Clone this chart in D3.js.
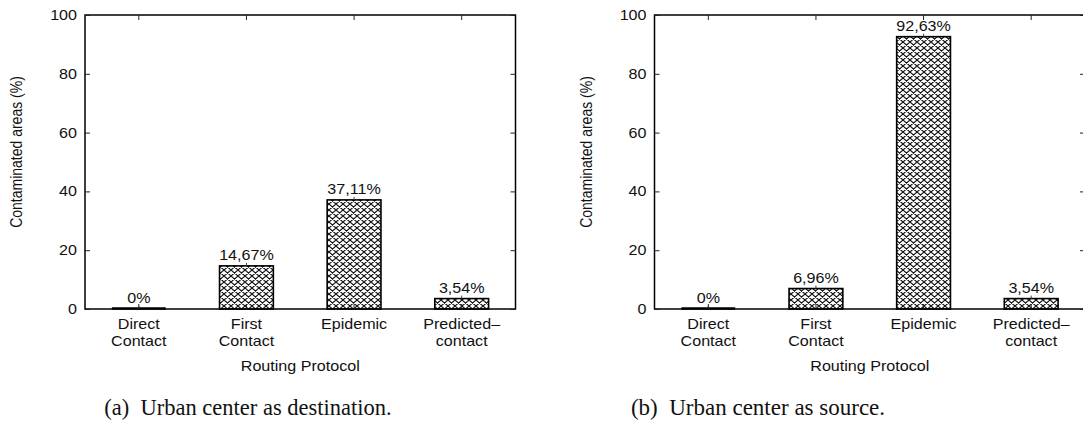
<!DOCTYPE html>
<html>
<head>
<meta charset="utf-8">
<script src="https://cdn.jsdelivr.net/npm/d3@7"></script>
<style>
  html, body { margin: 0; padding: 0; background: #fff; }
  svg { display: block; }
</style>
</head>
<body>
<svg id="chart" width="1083" height="423"></svg>
<script>
// ---- data ----
const categories = ["Direct Contact", "First Contact", "Epidemic", "Predicted-contact"];
const categoryLines = [["Direct", "Contact"], ["First", "Contact"], ["Epidemic"], ["Predicted\u2013", "contact"]];
const valuesDestination = [0, 14.67, 37.11, 3.54];
const labelsDestination = ["0%", "14,67%", "37,11%", "3,54%"];
const valuesSource = [0, 6.96, 92.63, 3.54];
const labelsSource = ["0%", "6,96%", "92,63%", "3,54%"];
const yTicks = [0, 20, 40, 60, 80, 100];
const yLabel = "Contaminated areas (%)";
const xLabel = "Routing Protocol";
const captions = ["(a)\u2002Urban center as destination.", "(b)\u2002Urban center as source."];

// ---- layout ----
const svg = d3.select("#chart");
const SX = 1.15;           // horizontal stretch of plot text
const FS = 14;
const plotTop = 15, plotBottom = 309;

const defs = svg.append("defs");
const pat = defs.append("pattern").attr("id", "xhatch")
  .attr("patternUnits", "userSpaceOnUse").attr("width", 7).attr("height", 6);
pat.append("rect").attr("width", 7).attr("height", 6).attr("fill", "#fff");
pat.append("path").attr("d", "M0,0L7,6M0,6L7,0M-1,5L1,7M6,-1L8,1M-1,1L1,-1M6,7L8,5")
  .attr("stroke", "#111").attr("stroke-width", 1.1).attr("fill", "none");

function stretchedText(g, x, y, txt, anchor, extra) {
  return g.append("text")
    .attr("transform", `translate(${x},${y}) scale(${SX},1)` + (extra || ""))
    .attr("text-anchor", anchor)
    .attr("font-family", "'Liberation Sans', Arial, Helvetica, sans-serif")
    .attr("font-size", FS)
    .attr("fill", "#111")
    .text(txt);
}

function panel(x0, x1, values, labels, yLabelX, caption, captionX, captionSize) {
  const g = svg.append("g");
  const x = d3.scaleBand().domain(categories).range([x0, x1])
    .paddingInner(0.5).paddingOuter(0.25);
  const y = d3.scaleLinear().domain([0, 100]).range([plotBottom, plotTop]);

  // bars
  g.selectAll("rect.bar").data(values).join("rect")
    .attr("class", "bar")
    .attr("x", (d, i) => x(categories[i]))
    .attr("y", d => y(d))
    .attr("width", x.bandwidth())
    .attr("height", d => Math.max(0, y(0) - y(d)))
    .attr("fill", "url(#xhatch)")
    .attr("stroke", "#000").attr("stroke-width", 1.6);

  // zero-height bars drawn as a thick line on the baseline
  g.selectAll("line.zero").data(values.filter(v => v === 0).map(v => values.indexOf(v)))
    .join("line")
    .attr("x1", i => x(categories[i]))
    .attr("x2", i => x(categories[i]) + x.bandwidth())
    .attr("y1", y(0) - 0.5).attr("y2", y(0) - 0.5)
    .attr("stroke", "#000").attr("stroke-width", 2.5);

  // small marks at bar tops
  g.selectAll("line.mk").data(values).join("line")
    .attr("x1", (d, i) => x(categories[i]) + x.bandwidth() / 2)
    .attr("x2", (d, i) => x(categories[i]) + x.bandwidth() / 2)
    .attr("y1", d => y(d)).attr("y2", d => y(d) - 3)
    .attr("stroke", "#444").attr("stroke-width", 1);

  // value labels
  values.forEach((v, i) => {
    stretchedText(g, x(categories[i]) + x.bandwidth() / 2, y(v) - 6, labels[i], "middle");
  });

  // frame
  g.append("rect").attr("x", x0).attr("y", plotTop)
    .attr("width", x1 - x0).attr("height", plotBottom - plotTop)
    .attr("fill", "none").attr("stroke", "#000").attr("stroke-width", 1.5);

  // y axis ticks (inward, mirrored)
  const yAxisL = d3.axisRight(y).tickValues(yTicks).tickSize(5).tickFormat("");
  g.append("g").attr("transform", `translate(${x0},0)`).call(yAxisL)
    .call(s => s.select(".domain").remove())
    .selectAll("line").attr("stroke", "#222");
  const yAxisR = d3.axisLeft(y).tickValues(yTicks).tickSize(5).tickFormat("");
  g.append("g").attr("transform", `translate(${x1},0)`).call(yAxisR)
    .call(s => s.select(".domain").remove())
    .selectAll("line").attr("stroke", "#222");
  yTicks.forEach(t => {
    stretchedText(g, x0 - 8, y(t) + 5, String(t), "end");
  });

  // x ticks (inward, top & bottom)
  const xAxisT = d3.axisBottom(x).tickSize(5).tickFormat("");
  g.append("g").attr("transform", `translate(0,${plotTop})`).call(xAxisT)
    .call(s => s.select(".domain").remove())
    .selectAll("line").attr("stroke", "#222");
  const xAxisB = d3.axisTop(x).tickSize(5).tickFormat("");
  g.append("g").attr("transform", `translate(0,${plotBottom})`).call(xAxisB)
    .call(s => s.select(".domain").remove())
    .selectAll("line").attr("stroke", "#222");

  // category labels
  categoryLines.forEach((lines, i) => {
    lines.forEach((ln, j) => {
      stretchedText(g, x(categories[i]) + x.bandwidth() / 2, 329 + j * 16.5, ln, "middle");
    });
  });

  // axis titles
  stretchedText(g, (x0 + x1) / 2, 371, xLabel, "middle");
  g.append("text")
    .attr("transform", `translate(${yLabelX},152) rotate(-90) scale(1,${SX})`)
    .attr("text-anchor", "middle")
    .attr("font-family", "'Liberation Sans', Arial, Helvetica, sans-serif")
    .attr("font-size", FS).attr("fill", "#111")
    .text(yLabel);

  // caption
  svg.append("text")
    .attr("x", captionX).attr("y", 415)
    .attr("text-anchor", "middle")
    .attr("font-family", "'Liberation Serif', 'Times New Roman', serif")
    .attr("font-size", captionSize).attr("fill", "#111")
    .text(caption);
}

panel(85, 515.5, valuesDestination, labelsDestination, 22, captions[0], 248, 22.5);
panel(654.5, 1085, valuesSource, labelsSource, 592, captions[1], 758, 23);
</script>
</body>
</html>
